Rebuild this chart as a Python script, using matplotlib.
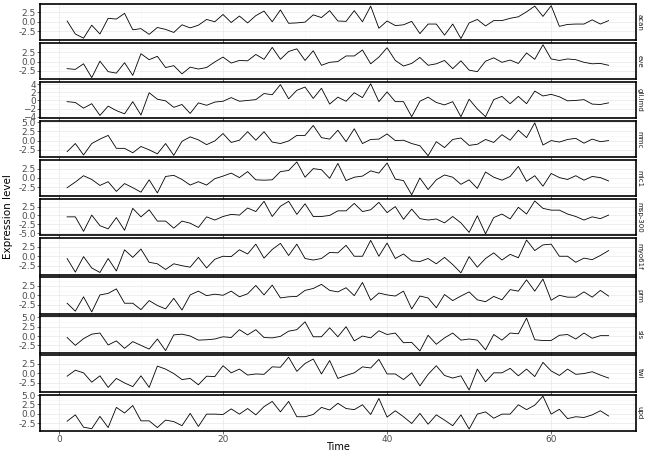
import numpy as np
import matplotlib.pyplot as plt
from matplotlib.ticker import MultipleLocator, AutoMinorLocator

# Zeitachse
time = np.arange(1, 68)

genes = ['acan', 'eve', 'gli.imd', 'mmc', 'mlc1', 'msp-300', 'myo61f', 'prm', 'sls', 'twi', 'upd']

acan = [0.2, -3.2, -4.3, -0.9, -3.2, 0.9, 0.7, 2.2, -2.1, -1.8, -3.3, -1.5, -2.0, -2.8, -0.8, -1.6,
        -0.9, 0.6, 0.0, 1.9, -0.2, 1.5, -0.3, 1.6, 2.8, 0.0, 3.1, -0.4, -0.3, -0.1, 1.8, 1.1, 2.9,
        0.2, 0.1, 2.9, 0.0, 4.1, -1.7, 0.2, -1.0, -0.8, 0.1, -3.1, -0.6, -0.6, -3.5, -0.6, -4.4,
        -0.3, 0.6, -1.1, 0.3, 0.3, 0.9, 1.3, 2.6, 4.1, 1.4, 4.2, -1.2, -0.7, -0.6, -0.6, 0.5, -0.6, 0.3]
eve = [-1.9, -2.1, -0.6, -4.3, 0.1, -2.7, -3.1, -0.3, -3.7, 2.1, 0.5, 1.4, -1.6, -1.1, -3.3, -1.5,
       -2.0, -1.6, -0.1, 1.2, -0.4, 0.3, 0.2, 1.9, 0.6, 3.8, 0.6, 2.7, 3.4, 0.3, 2.9, -1.0, -0.2,
       0.0, 1.5, 1.5, 3.1, -0.6, 1.2, 3.7, 0.3, -1.2, -0.5, 1.1, -1.0, -0.6, 0.3, -1.9, 0.2, -2.3,
       -2.7, 0.1, 1.0, -0.2, 0.4, -0.5, 2.3, 0.6, 4.5, 0.7, 0.3, 0.7, 0.5, -0.2, -0.6, -0.5, -1.0]
gli_imd = [-0.3, -0.5, -1.9, -0.8, -3.7, -1.4, -2.5, -3.3, -0.3, -3.6, 1.9, 0.3, -0.1, -1.7, -1.0,
           -3.2, -0.6, -1.2, -0.4, -0.2, 0.7, -0.2, 0.0, 0.2, 1.7, 1.4, 3.9, 0.4, 2.5, 3.3, 0.5, 3.0,
           -0.9, 0.8, -0.2, 1.9, 0.7, 4.1, -0.3, 2.1, -0.3, -0.3, -4.0, -0.2, 0.8, -0.5, -1.1, -0.3,
           -4.0, 0.3, -2.1, -4.0, 0.2, 1.0, -0.8, 1.0, -0.8, 2.3, 1.1, 1.5, 0.9, -0.1, 0.0, 0.2,
           -0.9, -1.0, -0.6]
mmc = [-3.0, -0.8, -3.9, -0.8, 0.4, 1.4, -2.1, -2.1, -3.3, -1.6, -2.5, -3.6, -0.8, -4.0, -0.2, 1.0,
       0.2, -1.1, -0.1, 1.9, -0.5, 0.1, 2.4, 0.1, 2.4, -0.4, -0.8, -0.1, 1.4, 1.4, 4.1, 0.8, 0.4,
       2.8, -0.3, 3.2, -0.8, 0.3, 0.4, 1.8, 0.0, 0.1, -0.8, -1.4, -4.1, -0.3, -1.9, 0.3, 0.7, -1.3,
       -1.0, 0.3, -0.5, 1.6, 0.1, 2.8, 0.8, 4.8, -1.2, 0.0, -0.4, 0.3, 0.6, -0.7, 0.4, -0.3, 0.0]
mlc1 = [-2.6, -1.1, 0.6, -0.4, -2.0, -1.0, -3.6, -1.5, -2.6, -3.8, -0.5, -4.0, 0.4, 0.7, -0.4, -1.9,
        -1.0, -1.9, -0.2, 0.5, 1.3, 0.1, 1.7, -0.5, -0.6, -0.5, 1.7, 2.0, 4.3, 0.2, 2.5, 2.2, -0.1,
        3.9, -0.7, 0.2, 0.5, 1.9, 1.3, 4.0, -0.3, -0.7, -4.5, 0.0, -3.1, -0.5, 0.8, 0.2, -1.7, -0.5,
        -2.8, 1.6, 0.2, -0.6, 0.4, 3.1, -0.9, 0.6, -2.2, 1.2, 0.1, -0.4, 0.6, -0.6, 0.4, 0.1, -0.8]
msp300 = [-0.4, -0.4, -4.5, 0.1, -2.9, -3.8, -0.6, -4.2, 2.0, -0.4, 1.6, -1.6, -1.6, -3.6, -1.6, -2.2,
          -3.4, -0.4, -1.3, -0.3, 0.3, 0.1, 2.1, 1.1, 4.0, -0.3, 2.6, 4.0, 0.3, 3.3, -0.3, -0.3, 0.0,
          1.3, 1.3, 3.4, 1.1, 1.6, 3.7, 0.8, 2.5, -1.1, 1.8, -0.9, -1.3, -1.0, -2.1, -0.3, -2.1, -4.8,
          -0.1, -5.2, -0.6, 0.4, -1.0, 2.3, 0.4, 4.1, 2.0, 1.5, 1.5, 0.4, -0.3, -1.3, -0.4, -0.9, 0.1]
myo61f = [-0.6, -4.2, -0.1, -3.1, -4.3, -0.6, -3.9, 1.7, -0.3, 1.9, -1.6, -2.0, -3.5, -2.0, -2.5, -2.9,
          -0.3, -3.1, -0.8, 0.0, -0.1, 1.7, 0.6, 3.2, -0.5, 1.8, 3.4, 0.2, 3.2, -0.6, -1.0, -0.6, 1.0,
          0.9, 2.9, 0.0, 0.0, 4.2, 0.0, 3.5, -0.6, 0.6, -1.2, -1.4, -0.6, -2.0, -0.3, -2.2, -4.4, -0.1,
          -2.9, -0.6, 0.9, -1.0, 0.5, -0.4, 4.3, 1.5, 3.0, 3.2, 0.0, 0.0, -1.6, -0.5, -0.9, 0.2, 1.5]
prm = [-2.1, -4.2, -0.4, -4.4, 0.1, 0.5, 1.7, -2.1, -2.1, -3.8, -1.4, -2.7, -3.6, -0.8, -3.9, 0.1,
       1.1, -0.1, 0.3, 0.0, 1.1, -0.4, 0.4, 2.6, 0.1, 2.7, -0.7, -0.4, -0.3, 1.3, 1.8, 2.9, 1.3,
       0.9, 2.0, -0.1, 3.4, -1.3, 0.6, 0.1, -0.2, 1.1, -3.6, -0.2, -0.7, -3.3, 0.2, -1.4, -0.2, 0.9,
       -1.2, -1.7, -0.3, -1.2, 1.5, 1.1, 4.1, 1.1, 4.3, -1.3, 0.0, -0.5, -0.5, 0.9, -0.5, 1.3, -0.2]
sls = [-0.4, -2.5, -0.7, 0.5, 0.8, -2.4, -1.3, -3.3, -1.5, -2.5, -3.5, -0.8, -3.9, 0.3, 0.5, 0.0,
       -1.1, -1.0, -0.8, -0.2, -0.4, 1.7, 0.3, 1.7, -0.4, -0.5, -0.1, 1.3, 1.7, 3.8, -0.2, -0.2, 2.2,
       -0.2, 2.5, -1.3, 0.0, -0.5, 1.4, 0.4, 0.8, -1.8, -1.7, -4.0, 0.2, -2.2, -0.5, 0.8, -1.1, -0.8,
       -1.1, -3.7, 0.4, -1.1, 0.8, 0.6, 4.8, -1.0, -1.2, -1.2, 0.2, 0.4, -0.8, 0.8, -0.6, 0.1, 0.1]
twi = [-0.8, 0.8, 0.1, -2.4, -0.7, -3.8, -1.4, -2.6, -3.6, -0.7, -3.8, 1.9, 1.1, -0.1, -1.7, -1.4,
       -3.1, -0.8, -0.9, 2.0, 0.1, 1.1, -0.5, -0.2, -0.3, 1.7, 1.6, 4.3, 0.5, 2.6, 3.8, -0.2, 3.4,
       -1.4, -0.6, 0.1, 1.7, 1.4, 3.7, -0.2, -0.2, -1.7, 0.1, -3.4, -0.3, 2.0, -0.6, -1.3, -0.7, -4.5,
       1.1, -2.3, 0.1, 0.1, 1.3, -0.7, 1.1, -0.9, 2.9, 0.6, -0.6, 1.1, -0.3, -0.1, 0.4, -0.5, -1.3]
upd = [-2.0, -0.3, -3.6, -4.0, -0.7, -3.7, 1.7, 0.2, 2.2, -1.9, -1.9, -3.7, -1.7, -2.1, -3.2, 0.1,
       -3.4, -0.1, -0.1, -0.2, 1.3, -0.1, 1.4, -0.3, 1.9, 3.3, 0.5, 3.3, -0.8, -0.8, -0.2, 1.7, 1.0,
       2.8, 1.4, 1.1, 2.4, -0.2, 4.1, -0.9, 0.8, -0.8, -2.6, 0.1, -2.8, -0.3, -1.7, -3.2, -0.3, -4.1,
       -0.1, 0.5, -1.2, -0.1, -0.1, 2.4, 1.1, 2.3, 4.7, -0.1, 1.2, -1.3, -0.8, -1.0, -0.3, 0.8, -0.6]

series = [acan, eve, gli_imd, mmc, mlc1, msp300, myo61f, prm, sls, twi, upd]

'''
Plot
'''
fig, axes = plt.subplots(11, 1, figsize=(6.46, 4.51), dpi=100, sharex=True)
fig.subplots_adjust(left=0.062, right=0.984, top=0.991, bottom=0.045, hspace=0.08)

for ax, name, vals in zip(axes, genes, series):
    ax.plot(time, vals, color='black', linewidth=0.6)
    ax.set_xlim(-2.3, 70.3)
    lo, hi = min(vals), max(vals)
    pad = (hi - lo) * 0.05
    ax.set_ylim(lo - pad, hi + pad)
    ax.yaxis.set_major_locator(MultipleLocator(2 if name == 'gli.imd' else 2.5))
    if name != 'gli.imd':
        ax.yaxis.set_major_formatter(plt.FormatStrFormatter('%.1f'))
    ax.xaxis.set_major_locator(MultipleLocator(20))
    ax.xaxis.set_minor_locator(MultipleLocator(10))
    ax.yaxis.set_minor_locator(AutoMinorLocator(2))
    ax.grid(True, which='major', color='#ebebeb', linewidth=0.6)
    ax.grid(True, which='minor', color='#f5f5f5', linewidth=0.4)
    ax.set_axisbelow(True)
    for s in ax.spines.values():
        s.set_color('black')
        s.set_linewidth(1.2)
    ax.tick_params(axis='both', which='major', labelsize=6.5, labelcolor='#4d4d4d',
                   color='#333333', length=2, width=0.5, pad=1)
    ax.tick_params(axis='both', which='minor', length=0)
    ax.text(1.002, 0.5, name, transform=ax.transAxes, rotation=-90, ha='left', va='center',
            fontsize=5, color='#1a1a1a')

axes[-1].set_xlabel('Time', fontsize=7, labelpad=-1)
fig.text(0.012, 0.52, 'Expression level', rotation=90, ha='center', va='center', fontsize=7.5)

plt.savefig('out.png', dpi=100)
